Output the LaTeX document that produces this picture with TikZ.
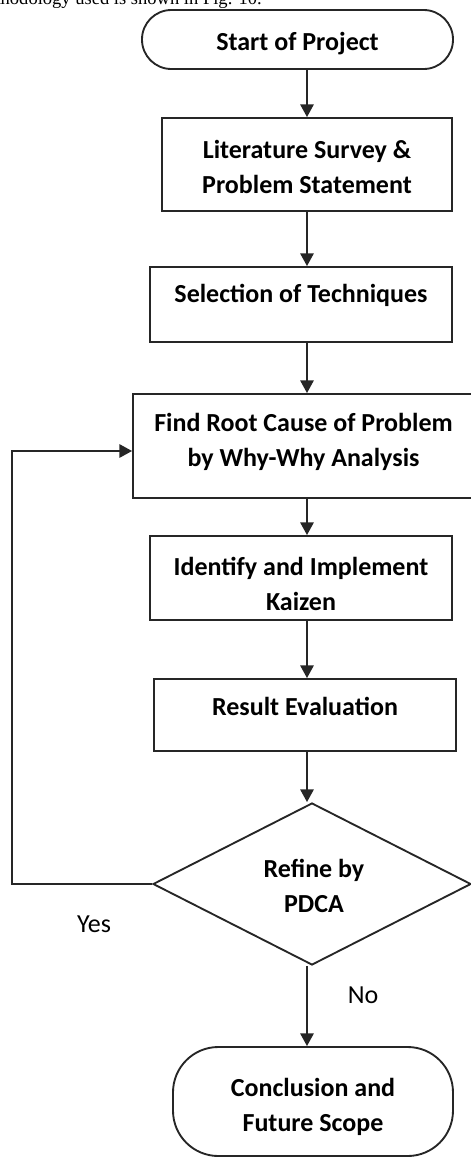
\documentclass[tikz,border=0pt]{standalone}
\usepackage{fontspec}
\setmainfont{Carlito}
\newfontfamily\bodyserif{Liberation Serif}
\usetikzlibrary{arrows.meta,shapes.geometric}

% one drawing unit = one pixel of the page
\newcommand{\pxu}{0.75pt}

\tikzset{
  flowline/.style={line width=1.4pt, draw=black!85},
  arr/.style={flowline, -{Triangle[length=9.5pt,width=10pt]}},
  stepbox/.style={flowline, draw, rectangle, inner sep=0pt, fill=white},
  terminal/.style={stepbox},
  decision/.style={flowline, draw, diamond, inner sep=0pt, fill=white},
  steptext/.style={font=\bfseries\fontsize{19.5}{26.25}\selectfont, align=center, inner sep=0pt},
  answer/.style={font=\fontsize{19.5}{24}\selectfont, inner sep=0pt},
}

\begin{document}
\begin{tikzpicture}[x=0.75pt, y=-0.75pt]
  \useasboundingbox (0,0) rectangle (471,1157);
  \clip (0,0) rectangle (471,1157);

  % tail of the sentence above the figure
  \node[anchor=base east, inner sep=0pt,
        font=\bodyserif\fontsize{13.9}{16}\selectfont] (intro) at (262,4.5)
        {methodology used is shown in Fig. 10.};

  % x position of the main vertical flow
  \coordinate (spine) at (307,0);
  \coordinate (loopx) at (12,0);

  % start terminal
  \node[terminal, rounded corners=22pt,
        minimum width=311*\pxu, minimum height=59*\pxu,
        label={[steptext, yshift=-3.4pt]center:Start of Project}]
        (start) at (297.5,39.5) {};

  % process steps
  \node[stepbox, minimum width=290*\pxu, minimum height=93*\pxu,
        label={[steptext, yshift=-1.5pt]center:Literature Survey \&\\Problem Statement}]
        (survey) at (307,164.5) {};

  \node[stepbox, minimum width=302*\pxu, minimum height=75*\pxu,
        label={[steptext, yshift=7.1pt]center:Selection of Techniques}]
        (select) at (301,304.5) {};

  \node[stepbox, minimum width=341*\pxu, minimum height=104*\pxu,
        label={[steptext, yshift=3.4pt]center:Find Root Cause of Problem\\by Why-Why Analysis}]
        (root) at (303.5,446) {};

  \node[stepbox, minimum width=302*\pxu, minimum height=84*\pxu,
        label={[steptext, yshift=-4.5pt]center:Identify and Implement\\Kaizen}]
        (kaizen) at (301,578) {};

  \node[stepbox, minimum width=302*\pxu, minimum height=72*\pxu,
        label={[steptext, yshift=6.75pt]center:Result Evaluation}]
        (result) at (305,715) {};

  % decision
  \node[decision, minimum width=318*\pxu, minimum height=162*\pxu,
        label={[steptext, yshift=-1.5pt, xshift=1.5pt]center:Refine by\\PDCA}]
        (pdca) at (312,884) {};

  % end terminal
  \node[terminal, rounded corners=34pt,
        minimum width=280*\pxu, minimum height=109*\pxu,
        label={[steptext, yshift=-3.75pt]center:Conclusion and\\Future Scope}]
        (finish) at (313,1101.5) {};

  % branch labels
  \node[answer] (yes) at (94,924) {Yes};
  \node[answer] (no) at (363,995) {No};

  % main flow
  \draw[arr] (start.south -| spine)  -- (survey.north -| spine);
  \draw[arr] (survey.south -| spine) -- (select.north -| spine);
  \draw[arr] (select.south -| spine) -- (root.north -| spine);
  \draw[arr] (root.south -| spine)   -- (kaizen.north -| spine);
  \draw[arr] (kaizen.south -| spine) -- (result.north -| spine);
  \draw[arr] (result.south -| spine) -- (pdca.north -| spine);
  \draw[arr] (pdca.south -| spine)   -- (finish.north -| spine);

  % feedback loop back to root-cause analysis
  \coordinate (rootin) at ([yshift=-3.75pt]root.west);
  \draw[arr] (pdca.west) -- (pdca.west -| loopx) |- (rootin);
\end{tikzpicture}
\end{document}
